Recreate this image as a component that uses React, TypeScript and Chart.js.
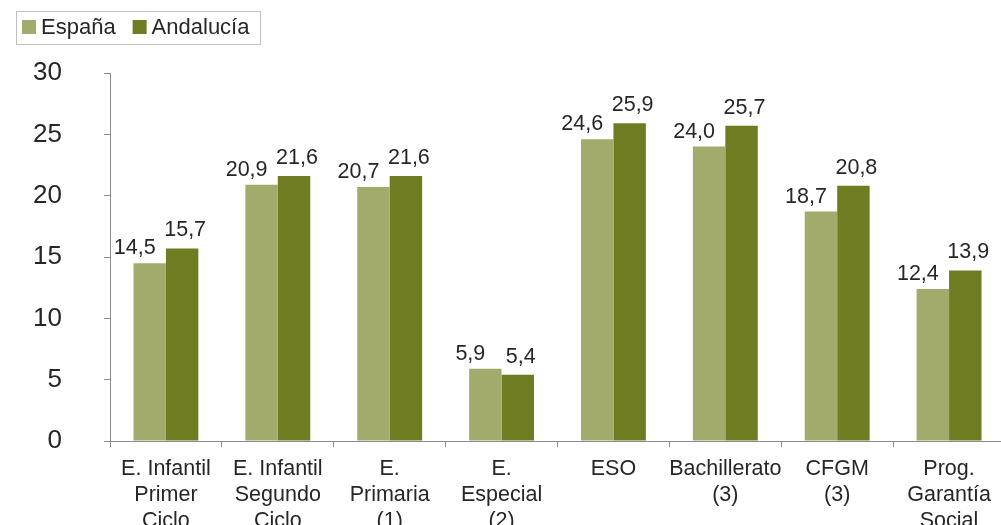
import React, { useEffect, useRef } from "react";
import { Chart, registerables } from "chart.js";

Chart.register(...registerables);

const categories: string[][] = [
  ["E. Infantil", "Primer", "Ciclo"],
  ["E. Infantil", "Segundo", "Ciclo"],
  ["E.", "Primaria", "(1)"],
  ["E.", "Especial", "(2)"],
  ["ESO"],
  ["Bachillerato", "(3)"],
  ["CFGM", "(3)"],
  ["Prog.", "Garantía", "Social"],
];
const seriesNames = ["España", "Andalucía"];
const espana = [14.5, 20.9, 20.7, 5.9, 24.6, 24.0, 18.7, 12.4];
const andalucia = [15.7, 21.6, 21.6, 5.4, 25.9, 25.7, 20.8, 13.9];
const yMin = 0;
const yMax = 30;
const yStep = 5;

const COLORS = ["#A3AB6C", "#6F7C22"];
const TEXT = "#262626";
const AXIS = "#8C8C8C";
const FONT = "'Liberation Sans', Arial, sans-serif";
const LABEL_DX = [-15, 3];
const LABEL_DY = [9, 12];

const fmt = (v: number) => v.toFixed(1).replace(".", ",");

const dataLabelPlugin = {
  id: "dataLabels",
  afterDatasetsDraw(chart: any) {
    const ctx = chart.ctx;
    ctx.save();
    ctx.font = `21.5px ${FONT}`;
    ctx.fillStyle = TEXT;
    ctx.textAlign = "center";
    ctx.textBaseline = "alphabetic";
    chart.data.datasets.forEach((ds: any, di: number) => {
      const meta = chart.getDatasetMeta(di);
      meta.data.forEach((el: any, i: number) => {
        ctx.fillText(fmt(ds.data[i]), el.x + LABEL_DX[di], el.y - LABEL_DY[di]);
      });
    });
    ctx.restore();
  },
};

const legendPlugin = {
  id: "boxLegend",
  afterDraw(chart: any) {
    const ctx = chart.ctx;
    ctx.save();
    ctx.strokeStyle = "#C0C0C0";
    ctx.lineWidth = 1;
    ctx.strokeRect(16.5, 11.5, 244, 33);
    ctx.font = `22px ${FONT}`;
    ctx.textBaseline = "middle";
    ctx.textAlign = "left";
    let x = 22;
    chart.data.datasets.forEach((ds: any) => {
      ctx.fillStyle = ds.backgroundColor;
      ctx.fillRect(x, 20, 14, 14);
      ctx.fillStyle = TEXT;
      ctx.fillText(ds.label, x + 19, 28);
      x += 19 + ctx.measureText(ds.label).width + 17;
    });
    ctx.restore();
  },
};

export default function App() {
  const ref = useRef<HTMLCanvasElement>(null);
  useEffect(() => {
    if (!ref.current) return;
    const chart = new Chart(ref.current, {
      type: "bar",
      data: {
        labels: categories,
        datasets: [
          { label: seriesNames[0], data: espana, backgroundColor: COLORS[0] },
          { label: seriesNames[1], data: andalucia, backgroundColor: COLORS[1] },
        ],
      },
      options: {
        responsive: false,
        animation: false,
        devicePixelRatio: 1,
        layout: { padding: { top: 73, right: 5, bottom: 0, left: 0 } },
        datasets: { bar: { categoryPercentage: 0.58, barPercentage: 1 } },
        plugins: {
          legend: { display: false },
          tooltip: { enabled: false },
        },
        scales: {
          x: {
            offset: true,
            grid: {
              offset: true,
              drawOnChartArea: false,
              tickLength: 6,
              color: AXIS,
            },
            border: { color: AXIS },
            ticks: {
              color: TEXT,
              font: { family: FONT, size: 21.5, lineHeight: 1.21 },
              padding: 9,
              maxRotation: 0,
              autoSkip: false,
            },
            afterFit(scale: any) {
              scale.height = 84;
            },
          },
          y: {
            min: yMin,
            max: yMax,
            grid: { drawOnChartArea: false, tickLength: 6, color: AXIS },
            border: { color: AXIS },
            ticks: {
              stepSize: yStep,
              color: TEXT,
              font: { family: FONT, size: 26 },
              padding: 42,
            },
            afterFit(scale: any) {
              scale.width = 110;
            },
          },
        },
      },
      plugins: [dataLabelPlugin, legendPlugin],
    } as any);
    return () => chart.destroy();
  }, []);
  return (
    <div
      style={{
        position: "absolute",
        left: 0,
        top: 0,
        width: 1001,
        height: 525,
        overflow: "hidden",
        background: "#fff",
      }}
    >
      <canvas ref={ref} width={1010} height={525} style={{ display: "block" }} />
    </div>
  );
}
